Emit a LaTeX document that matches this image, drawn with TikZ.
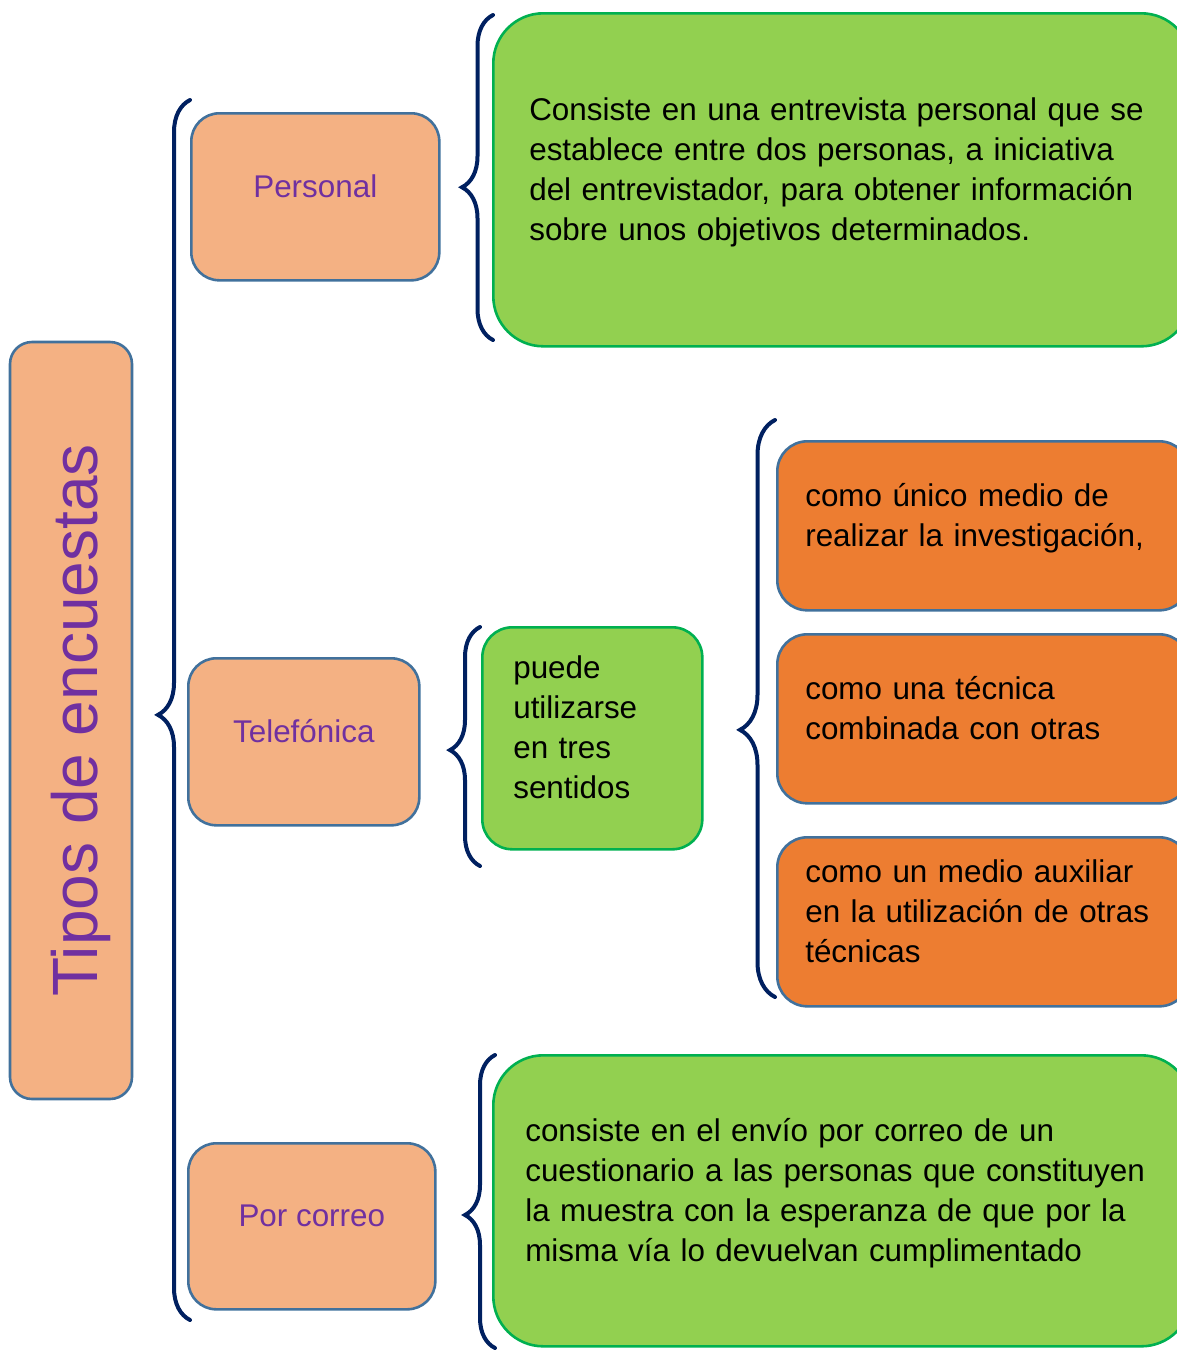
\documentclass[tikz,border=0pt]{standalone}
\usepackage{fontspec}
\setmainfont{Liberation Sans}
\usetikzlibrary{decorations.pathreplacing}
\definecolor{salmon}{HTML}{F4B183}
\definecolor{bordeazul}{HTML}{41719C}
\definecolor{morado}{HTML}{7030A0}
\definecolor{verdeclaro}{HTML}{92D050}
\definecolor{verdeborde}{HTML}{00B050}
\definecolor{naranja}{HTML}{ED7D31}
\definecolor{marino}{HTML}{002060}
\tikzset{
  caja/.style={anchor=north west, inner ysep=0pt, font=\fontsize{15.7}{20}\selectfont,
    execute at end node={\rule[-11pt]{0pt}{0pt}}},
  tipo/.style={caja, draw=bordeazul, line width=1.3pt, fill=salmon, text=morado,
    rounded corners=14pt, inner xsep=0pt},
  verde/.style={caja, draw=verdeborde, line width=1.3pt, fill=verdeclaro,
    rounded corners=25pt, align=left},
  medio/.style={caja, draw=bordeazul, line width=1.3pt, fill=naranja, rounded corners=15pt,
    align=left, inner xsep=14pt, text width=178pt, minimum height=84.5pt},
  llave/.style 2 args={draw=marino, line width=2pt, line cap=round, decorate,
    decoration={brace, amplitude=#1, aspect=#2}},
}
\begin{document}
\begin{tikzpicture}[x=0.5pt, y=-0.5pt]
  \useasboundingbox (0,0) rectangle (1177,1351);
  \clip (0,0) rectangle (1177,1351);

  % titulo
  \node[draw=bordeazul, line width=1.3pt, fill=salmon, rounded corners=11pt, rotate=90,
        minimum width=378.5pt, minimum height=61pt, inner sep=0pt, text=morado,
        font=\fontsize{32}{38}\selectfont] (titulo) at (71,720.5) {\rule{0pt}{33pt}Tipos de encuestas};

  % tipos de encuesta
  \path (190,112)  node [tipo, minimum width=124pt, minimum height=83.5pt] (personal) {Personal}
        (187,657)  node [tipo, minimum width=115.5pt, minimum height=83.5pt] (telefonica) {Telefónica}
        (187,1142) node [tipo, minimum width=123.5pt, minimum height=83pt] (correo) {Por correo}
  ;

  % descripciones
  \path (492,12)   node [verde, inner xsep=18pt, text width=313pt, minimum height=166.5pt] (defpersonal)
          {Consiste en una entrevista personal que se\\establece entre dos personas, a iniciativa\\del entrevistador, para obtener información\\sobre unos objetivos determinados.}
        (481,626)  node [verde, rounded corners=15pt, inner xsep=15.5pt, text width=79pt, minimum height=111pt] (sentidos)
          {puede\\utilizarse\\en tres\\sentidos}
        (492,1054) node [verde, inner xsep=16pt, text width=317pt, minimum height=145.5pt] (defcorreo)
          {consiste en el envío por correo de un\\cuestionario a las personas que constituyen\\la muestra con la esperanza de que por la\\misma vía lo devuelvan cumplimentado}
  ;

  % tres sentidos
  \path (776,440) node [medio] (unico) {como único medio de\\realizar la investigación,}
        (776,633) node [medio] (combinada) {como una técnica\\combinada con otras}
        (776,836) node [medio] (auxiliar) {como un medio auxiliar\\en la utilización de otras\\técnicas}
  ;

  % llaves
  \coordinate (tiposB) at (190,1320);   \coordinate (tiposA) at (190,100);
  \coordinate (personalB) at (493,340); \coordinate (personalA) at (493,15);
  \coordinate (telefB) at (480,866);    \coordinate (telefA) at (480,627);
  \coordinate (sentidosB) at (775,997); \coordinate (sentidosA) at (775,420);
  \coordinate (correoB) at (495,1348);  \coordinate (correoA) at (495,1055);

  \draw[llave={16pt}{0.496}] (tiposB) -- (tiposA);
  \draw[llave={15.5pt}{0.47}] (personalB) -- (personalA);
  \draw[llave={15pt}{0.485}] (telefB) -- (telefA);
  \draw[llave={17.5pt}{0.463}] (sentidosB) -- (sentidosA);
  \draw[llave={15pt}{0.454}] (correoB) -- (correoA);
\end{tikzpicture}
\end{document}
